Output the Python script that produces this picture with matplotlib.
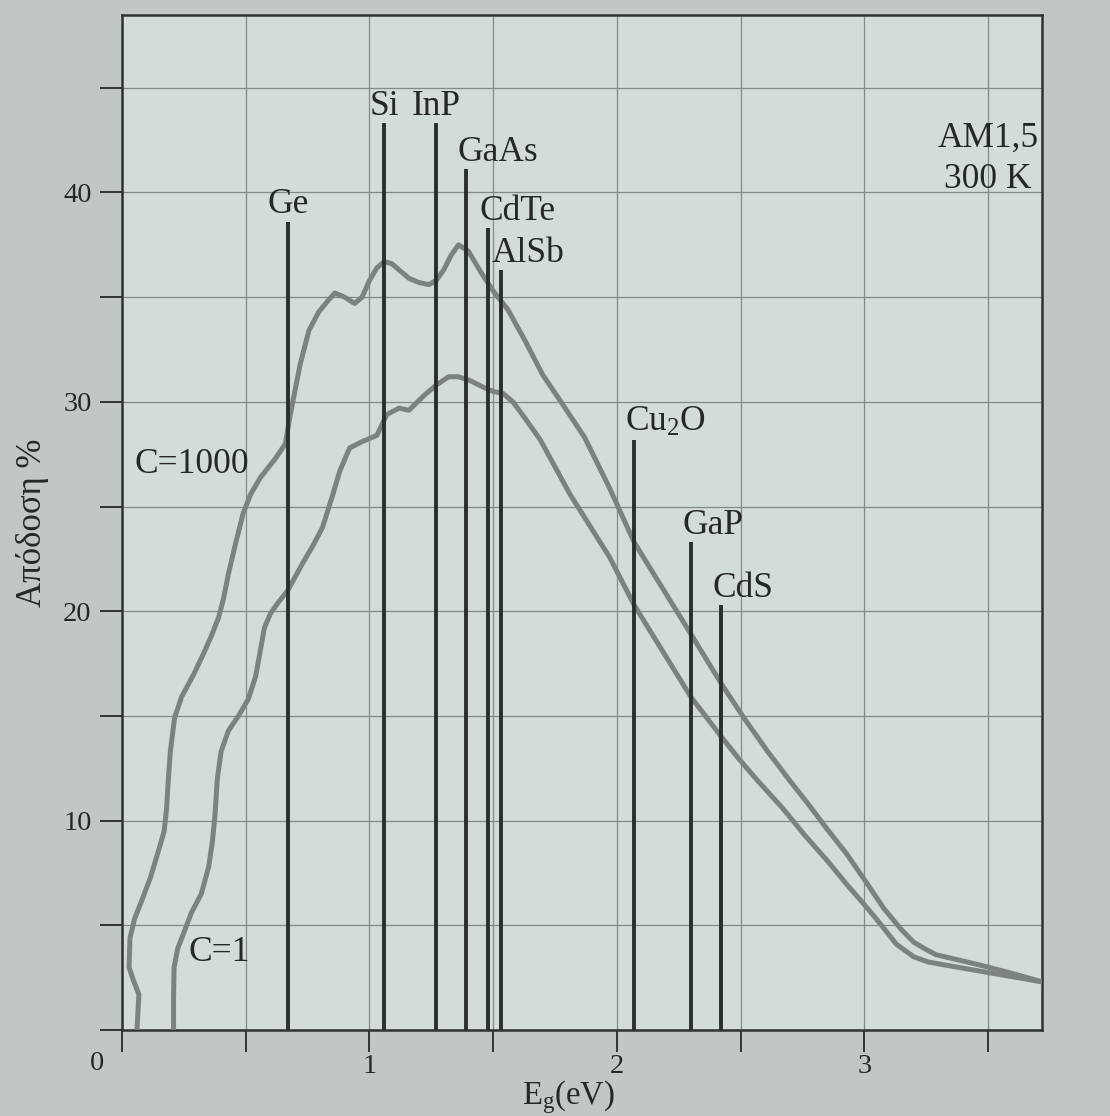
import numpy as np
import matplotlib
matplotlib.use("Agg")
import matplotlib.pyplot as plt
from matplotlib.ticker import MultipleLocator, FixedLocator

plt.rcParams['font.family'] = ['Liberation Serif', 'DejaVu Serif']
plt.rcParams['mathtext.fontset'] = 'custom'
plt.rcParams['mathtext.rm'] = 'Liberation Serif'
plt.rcParams['mathtext.it'] = 'Liberation Serif:italic'

# C=1000 curve
eg_c1000 = [0.06, 0.068, 0.045, 0.028, 0.032, 0.05, 0.08, 0.115, 0.148, 0.17, 0.18, 0.186,
            0.195, 0.212, 0.24, 0.29, 0.33, 0.36, 0.39, 0.41, 0.43, 0.46, 0.49, 0.52, 0.56,
            0.62, 0.66, 0.68, 0.72, 0.755, 0.795, 0.83, 0.86, 0.90, 0.94, 0.97, 1.00,
            1.03, 1.06, 1.09, 1.12, 1.16, 1.20, 1.24, 1.27, 1.30, 1.33, 1.36, 1.40,
            1.45, 1.50, 1.56, 1.63, 1.70, 1.78, 1.87, 1.97, 2.07, 2.19, 2.30, 2.43,
            2.52, 2.61, 2.70, 2.78, 2.85, 2.93, 3.00, 3.08, 3.15, 3.20, 3.25, 3.29,
            3.38, 3.47, 3.60, 3.72]
eff_c1000 = [0.0, 1.7, 2.4, 3.0, 4.4, 5.3, 6.2, 7.3, 8.6, 9.5, 10.6, 11.8,
             13.3, 14.9, 15.9, 17.0, 18.0, 18.8, 19.7, 20.6, 21.8, 23.3, 24.7, 25.6, 26.4,
             27.3, 28.0, 29.4, 31.8, 33.4, 34.3, 34.8, 35.2, 35.0, 34.7, 35.0, 35.8,
             36.4, 36.7, 36.6, 36.3, 35.9, 35.7, 35.6, 35.8, 36.3, 37.0, 37.5, 37.2,
             36.2, 35.3, 34.4, 32.9, 31.3, 29.9, 28.3, 25.9, 23.3, 21.0, 18.9, 16.4,
             14.8, 13.3, 11.9, 10.7, 9.6, 8.4, 7.2, 5.8, 4.8, 4.2, 3.85, 3.6,
             3.35, 3.1, 2.7, 2.3]

# C=1 curve
eg_c1 = [0.208, 0.208, 0.21, 0.225, 0.248, 0.28, 0.32, 0.35, 0.365, 0.375, 0.385,
         0.40, 0.43, 0.47, 0.51, 0.54, 0.56, 0.575, 0.60, 0.63, 0.67, 0.73, 0.77, 0.81,
         0.85, 0.88, 0.92, 0.97, 1.03, 1.07, 1.12, 1.16, 1.22, 1.27, 1.32, 1.36,
         1.41, 1.46, 1.50, 1.54, 1.58, 1.63, 1.69, 1.75, 1.81, 1.89, 1.97, 2.07,
         2.19, 2.30, 2.41, 2.49, 2.57, 2.67, 2.76, 2.85, 2.93, 3.00, 3.06, 3.13,
         3.20, 3.26, 3.33, 3.50, 3.72]
eff_c1 = [0.0, 1.5, 3.0, 3.9, 4.6, 5.6, 6.5, 7.8, 9.0, 10.2, 12.0,
          13.3, 14.3, 15.0, 15.8, 16.9, 18.2, 19.2, 19.9, 20.4, 21.0, 22.3, 23.1, 24.0,
          25.5, 26.7, 27.8, 28.1, 28.4, 29.4, 29.7, 29.6, 30.3, 30.8, 31.2, 31.2,
          31.0, 30.7, 30.5, 30.4, 30.0, 29.2, 28.2, 26.9, 25.6, 24.1, 22.6, 20.3,
          18.0, 15.9, 14.2, 13.0, 11.9, 10.6, 9.3, 8.1, 6.95, 6.0, 5.15, 4.1,
          3.5, 3.25, 3.1, 2.75, 2.3]

# semiconductors: band gap (eV) and height of the marker line (%)
materials = ['Ge', 'Si', 'InP', 'GaAs', 'CdTe', 'AlSb', 'Cu$_2$O', 'GaP', 'CdS']
band_gaps = [0.67, 1.06, 1.27, 1.39, 1.48, 1.53, 2.07, 2.30, 2.42]
line_tops = [38.6, 43.3, 43.3, 41.1, 38.3, 36.3, 28.2, 23.3, 20.3]

curve_col = '#7c8282'
line_col = '#2b2e2e'
text_col = '#262828'

fig = plt.figure(figsize=(11.1, 11.16), dpi=100, facecolor='#c0c7c6')
ax = fig.add_axes([0.110, 0.077, 0.829, 0.910])
ax.set_facecolor('#d4dcdb')

ax.plot(eg_c1000, eff_c1000, color=curve_col, lw=3.6, solid_capstyle='round',
        solid_joinstyle='round', zorder=3)
ax.plot(eg_c1, eff_c1, color=curve_col, lw=3.6, solid_capstyle='round',
        solid_joinstyle='round', zorder=3)

for i, (name, eg, top) in enumerate(zip(materials, band_gaps, line_tops)):
    ax.vlines(eg, 0, top, color=line_col, lw=2.8, zorder=4)
    if i < 3:
        ax.text(eg, top + 0.4, name, ha='center', va='baseline', fontsize=25.5, color=text_col)
    else:
        ax.text(eg - 0.035, top + 0.4, name, ha='left', va='baseline', fontsize=25.5,
                color=text_col)

ax.text(0.05, 27.0, 'C=1000', ha='left', va='center', fontsize=25.5, color=text_col)
ax.text(0.27, 3.7, 'C=1', ha='left', va='center', fontsize=25.5, color=text_col)
ax.text(3.5, 41.6, 'AM1,5\n300 K', ha='center', va='center', fontsize=25.5,
        color=text_col, linespacing=1.35)

ax.set_xlim(0, 3.72)
ax.set_ylim(0, 48.5)
ax.xaxis.set_major_locator(FixedLocator([1, 2, 3]))
ax.xaxis.set_minor_locator(MultipleLocator(0.5))
ax.yaxis.set_major_locator(FixedLocator([10, 20, 30, 40]))
ax.yaxis.set_minor_locator(MultipleLocator(5))
ax.grid(which='both', color='#838b8a', lw=0.9)
ax.set_axisbelow(True)
ax.tick_params(which='both', direction='out', length=16, width=1.4, colors='#333',
               labelsize=20.5, labelcolor=text_col, pad=6)
ax.tick_params(axis='x', pad=1)
for s in ax.spines.values():
    s.set_color('#2f3232')
    s.set_linewidth(1.8)

ax.text(-0.1, -1.6, '0', ha='center', va='center', fontsize=20.5, color=text_col, clip_on=False)
ax.set_xlabel('E$_\\mathrm{g}$(eV)', fontsize=23.5, color=text_col)
ax.xaxis.set_label_coords(0.485, -0.047)
ax.set_ylabel('Απόδοση %', fontsize=25, color=text_col, labelpad=10)

fig.savefig('out.png', dpi=100, facecolor=fig.get_facecolor())
